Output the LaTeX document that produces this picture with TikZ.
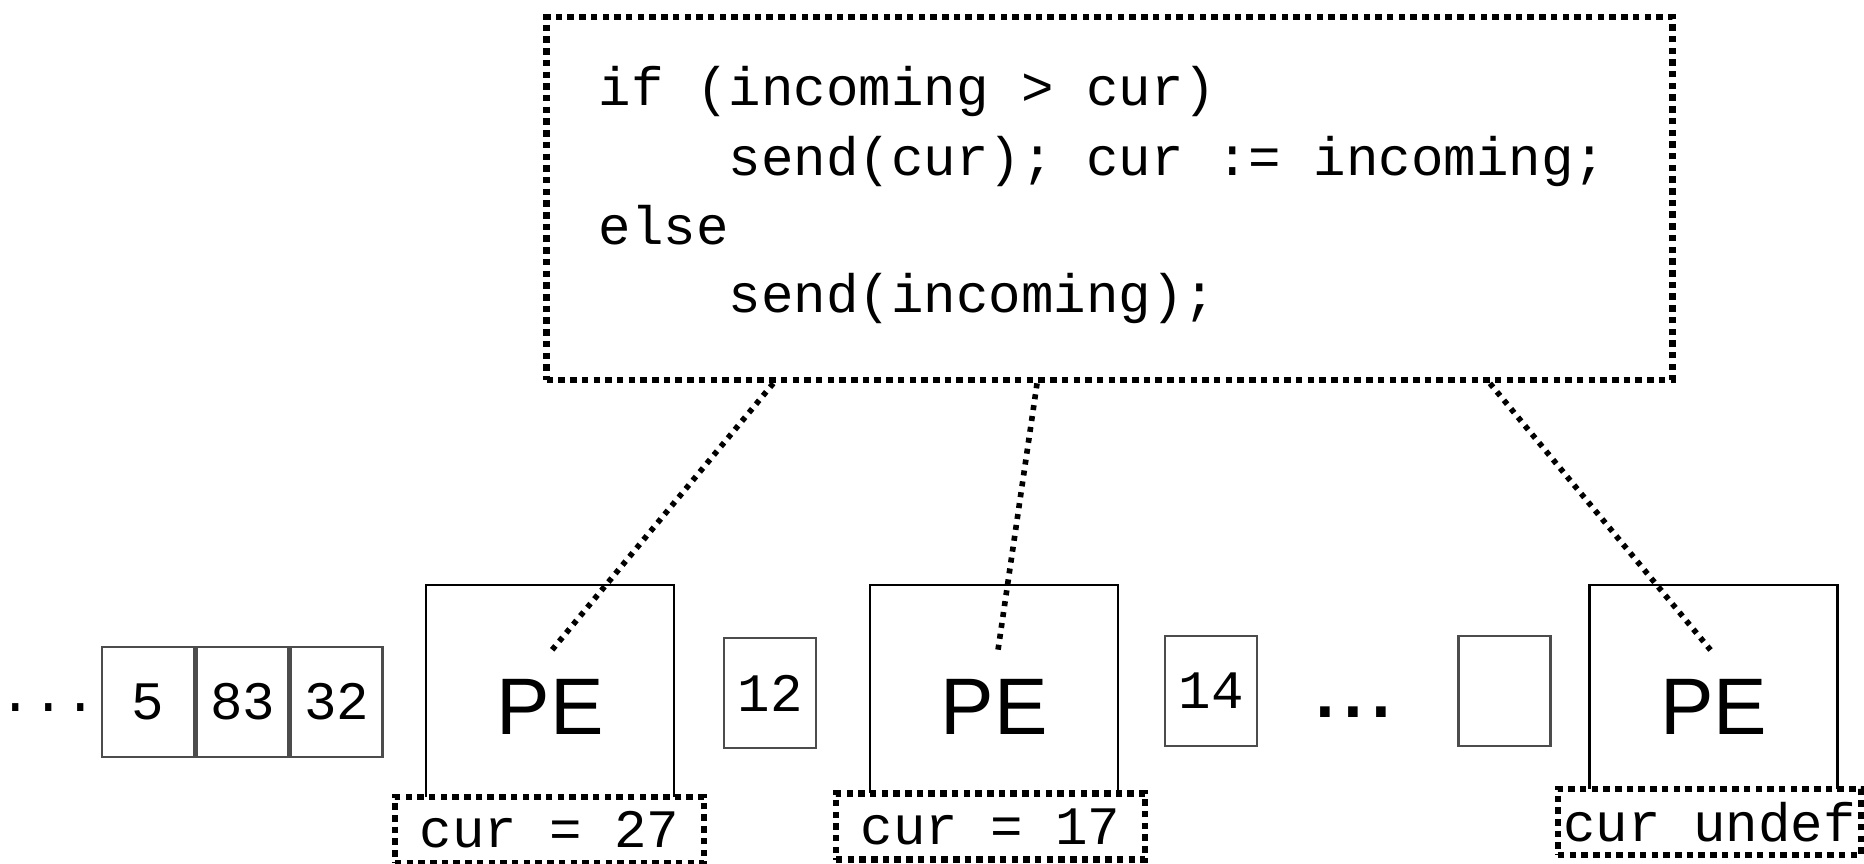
\documentclass[tikz,border=0pt]{standalone}
\usepackage{fontspec}
\setmainfont{Liberation Sans}
\newfontfamily\codefont{Liberation Mono}
\usetikzlibrary{calc}
\frenchspacing

\begin{document}
\begin{tikzpicture}[x=0.01cm, y=-0.01cm,
    cell/.style={draw=black!70, line width=0.6pt, minimum width=0.92cm, minimum height=1.1cm, inner sep=0pt, font=\codefont\fontsize{15.4}{18}\selectfont},
    pebox/.style={draw, line width=0.7pt, minimum width=2.48cm, minimum height=2.44cm, inner sep=0pt, font=\fontsize{22.8}{26}\selectfont},
    dotline/.style={line width=1.85pt, dash pattern=on 0.065cm off 0.052cm},
    curbox/.style={draw, dotline, fill=white, minimum width=3.09cm, minimum height=0.66cm, inner sep=0pt, font=\codefont\fontsize{15.4}{18}\selectfont},
    codeline/.style={anchor=base west, inner sep=0pt, font=\codefont\fontsize{15.4}{19.6}\selectfont}]
    \useasboundingbox (0,0) rectangle (1864,864);
    \clip (0,0) rectangle (1864,864);
                    % Nodes
                    \node[codeline] (dl) at (-1,711) {...};
                    \node[cell] (b5) at (148,702) {5};
                    \node[cell] (b83) at (242.5,702) {83};
                    \node[cell] (b32) at (336.5,702) {32};
                    \node[pebox] (pe1) at (550,707) {PE};
                    \node[curbox] (cur1) at (549.5,830) {cur = 27};
                    \node[cell] (b12) at (770,693) {12};
                    \node[pebox] (pe2) at (994,707) {PE};
                    \node[curbox] (cur2) at (990.5,826.5) {cur = 17};
                    \node[cell] (b14) at (1211,691) {14};
                    \node[anchor=base west, inner sep=0pt, font=\fontsize{28.4}{30}\selectfont] (dm) at (1311,717) {...};
                    \node[cell] (bx) at (1504.5,691) {};
                    \node[pebox] (pe3) at (1713.5,707) {PE};
                    \node[curbox, minimum width=3.03cm] (cur3) at (1709.5,822) {cur undef};
                    \node[draw, dotline, minimum width=11.25cm, minimum height=3.63cm] (code) at (1109.5,198.5) {};
                    \node[codeline] (l1) at (598,106) {if (incoming > cur)};
                    \node[codeline] (l2) at (598,176) {\hspace*{2.4em}send(cur); cur := incoming;};
                    \node[codeline] (l3) at (598,245) {else};
                    \node[codeline] (l4) at (598,313) {\hspace*{2.4em}send(incoming);};
                    \coordinate (c1) at ($(code.south west)!0.203!(code.south east)$);
                    \coordinate (c2) at ($(code.south west)!0.436!(code.south east)$);
                    \coordinate (c3) at ($(code.south west)!0.836!(code.south east)$);
                    \coordinate (e1) at ($(pe1.center)+(2,-57)$);
                    \coordinate (e2) at ($(pe2.center)+(4,-57)$);
                    \coordinate (e3) at ($(pe3.center)+(-3,-57)$);
                    % Edges
                    \draw[dotline, line width=1.6pt, dash pattern=on 0.05cm off 0.06cm] (c1) -- (e1);
                    \draw[dotline, line width=1.6pt, dash pattern=on 0.05cm off 0.06cm] (c2) -- (e2);
                    \draw[dotline, line width=1.6pt, dash pattern=on 0.05cm off 0.06cm] (c3) -- (e3);
                \end{tikzpicture}
\end{document}
